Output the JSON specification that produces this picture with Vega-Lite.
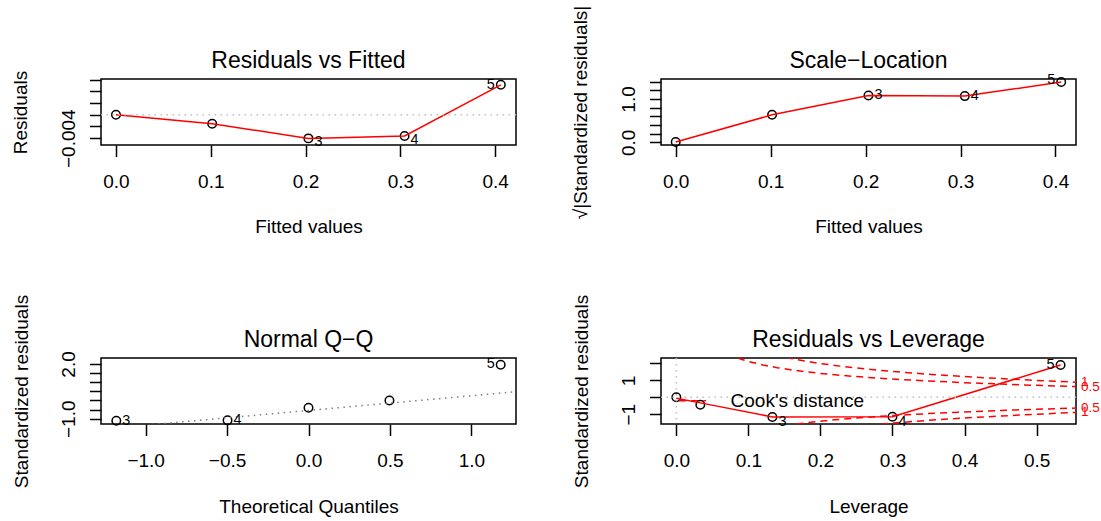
{
  "$schema": "https://vega.github.io/schema/vega-lite/v6.json",
  "background": "white",
  "padding": {"left": 10, "top": 4, "right": 0, "bottom": 0},
  "columns": 2,
  "spacing": {"row": 213, "column": 145},
  "bounds": "flush",
  "datasets": {
    "rvf": [
      {"x": 0, "y": 0.0, "id": "1"},
      {"x": 0.1015, "y": -0.00153, "id": "2"},
      {"x": 0.203, "y": -0.00403, "id": "3"},
      {"x": 0.3045, "y": -0.00363, "id": "4"},
      {"x": 0.406, "y": 0.00511, "id": "5"}
    ],
    "sl": [
      {"x": 0, "y": 0.01, "id": "1"},
      {"x": 0.1015, "y": 0.635, "id": "2"},
      {"x": 0.203, "y": 1.082, "id": "3"},
      {"x": 0.3045, "y": 1.066, "id": "4"},
      {"x": 0.406, "y": 1.39, "id": "5"}
    ],
    "qq": [
      {"x": -1.18, "y": -1.109, "id": "3"},
      {"x": -0.497, "y": -1.09, "id": "4"},
      {"x": 0, "y": -0.4, "id": "2"},
      {"x": 0.497, "y": -0.002, "id": "1"},
      {"x": 1.18, "y": 1.96, "id": "5"}
    ],
    "qqline": [{"x": -1.4, "y": -1.675}, {"x": 1.4, "y": 0.583}],
    "rvl": [
      {"x": 0, "y": -0.002, "s": -0.06, "id": "1"},
      {"x": 0.0333, "y": -0.44, "s": -0.33, "id": "2"},
      {"x": 0.1333, "y": -1.17, "s": -1.16, "id": "3"},
      {"x": 0.3, "y": -1.15, "s": -1.15, "id": "4"},
      {"x": 0.5333, "y": 1.91, "s": 1.91, "id": "5"}
    ],
    "zero": [{"x": 0, "y": 0}],
    "cook": [
      {"g": "u1", "x": 0.12, "y": 2.708}, {"g": "u1", "x": 0.14, "y": 2.478}, {"g": "u1", "x": 0.16, "y": 2.291}, {"g": "u1", "x": 0.18, "y": 2.134}, {"g": "u1", "x": 0.2, "y": 2.0}, {"g": "u1", "x": 0.22, "y": 1.883}, {"g": "u1", "x": 0.25, "y": 1.732}, {"g": "u1", "x": 0.28, "y": 1.604}, {"g": "u1", "x": 0.3, "y": 1.528}, {"g": "u1", "x": 0.35, "y": 1.363}, {"g": "u1", "x": 0.4, "y": 1.225}, {"g": "u1", "x": 0.45, "y": 1.106}, {"g": "u1", "x": 0.5, "y": 1.0}, {"g": "u1", "x": 0.5547, "y": 0.896},
      {"g": "l1", "x": 0.12, "y": -2.708}, {"g": "l1", "x": 0.14, "y": -2.478}, {"g": "l1", "x": 0.16, "y": -2.291}, {"g": "l1", "x": 0.18, "y": -2.134}, {"g": "l1", "x": 0.2, "y": -2.0}, {"g": "l1", "x": 0.22, "y": -1.883}, {"g": "l1", "x": 0.25, "y": -1.732}, {"g": "l1", "x": 0.28, "y": -1.604}, {"g": "l1", "x": 0.3, "y": -1.528}, {"g": "l1", "x": 0.35, "y": -1.363}, {"g": "l1", "x": 0.4, "y": -1.225}, {"g": "l1", "x": 0.45, "y": -1.106}, {"g": "l1", "x": 0.5, "y": -1.0}, {"g": "l1", "x": 0.5547, "y": -0.896},
      {"g": "u05", "x": 0.07, "y": 2.577}, {"g": "u05", "x": 0.08, "y": 2.398}, {"g": "u05", "x": 0.09, "y": 2.249}, {"g": "u05", "x": 0.1, "y": 2.121}, {"g": "u05", "x": 0.12, "y": 1.915}, {"g": "u05", "x": 0.14, "y": 1.752}, {"g": "u05", "x": 0.16, "y": 1.62}, {"g": "u05", "x": 0.18, "y": 1.509}, {"g": "u05", "x": 0.2, "y": 1.414}, {"g": "u05", "x": 0.22, "y": 1.331}, {"g": "u05", "x": 0.25, "y": 1.225}, {"g": "u05", "x": 0.28, "y": 1.134}, {"g": "u05", "x": 0.3, "y": 1.08}, {"g": "u05", "x": 0.35, "y": 0.964}, {"g": "u05", "x": 0.4, "y": 0.866}, {"g": "u05", "x": 0.45, "y": 0.782}, {"g": "u05", "x": 0.5, "y": 0.707}, {"g": "u05", "x": 0.5547, "y": 0.634},
      {"g": "l05", "x": 0.07, "y": -2.577}, {"g": "l05", "x": 0.08, "y": -2.398}, {"g": "l05", "x": 0.09, "y": -2.249}, {"g": "l05", "x": 0.1, "y": -2.121}, {"g": "l05", "x": 0.12, "y": -1.915}, {"g": "l05", "x": 0.14, "y": -1.752}, {"g": "l05", "x": 0.16, "y": -1.62}, {"g": "l05", "x": 0.18, "y": -1.509}, {"g": "l05", "x": 0.2, "y": -1.414}, {"g": "l05", "x": 0.22, "y": -1.331}, {"g": "l05", "x": 0.25, "y": -1.225}, {"g": "l05", "x": 0.28, "y": -1.134}, {"g": "l05", "x": 0.3, "y": -1.08}, {"g": "l05", "x": 0.35, "y": -0.964}, {"g": "l05", "x": 0.4, "y": -0.866}, {"g": "l05", "x": 0.45, "y": -0.782}, {"g": "l05", "x": 0.5, "y": -0.707}, {"g": "l05", "x": 0.5547, "y": -0.634}
    ],
    "cooklab": [
      {"x": 0.5547, "y": 0.896, "label": "1"},
      {"x": 0.5547, "y": 0.634, "label": "0.5"},
      {"x": 0.5547, "y": -0.634, "label": "0.5"},
      {"x": 0.5547, "y": -0.896, "label": "1"}
    ],
    "legend": [{"x": 0.004, "x2": 0.041, "y": -0.2, "tx": 0.0752, "ty": -0.237, "label": "Cook's distance"}]
  },
  "concat": [
    {
      "width": 415, "height": 66,
      "title": {"text": "Residuals vs Fitted", "offset": -3},
      "layer": [
        {
          "data": {"name": "rvf"},
          "mark": {"type": "point", "shape": "circle", "filled": false, "color": "black", "strokeWidth": 1.5, "size": 72, "opacity": 1},
          "encoding": {
            "x": {"field": "x", "type": "quantitative", "title": "Fitted values", "scale": {"domain": [-0.0158, 0.422], "nice": false, "zero": false},
                  "axis": {"values": [0, 0.1, 0.2, 0.3, 0.4], "tickCount": 20, "format": ".1f", "titleY": 87, "labelOverlap": false}},
            "y": {"field": "y", "type": "quantitative", "title": "Residuals", "scale": {"domain": [-0.00516, 0.0061], "nice": false, "zero": false},
                  "axis": {"values": [-0.004, -0.002, 0, 0.002, 0.004, 0.006], "tickCount": 20, "labelExpr": "datum.value < -0.003 ? '−0.004' : ''", "titleX": -75, "labelOverlap": false}}
          }
        },
        {
          "data": {"name": "rvf"},
          "mark": {"type": "line", "color": "#FF0000", "strokeWidth": 1.5},
          "encoding": {
            "x": {"field": "x", "type": "quantitative", "title": "Fitted values"},
            "y": {"field": "y", "type": "quantitative", "title": "Residuals"}
          }
        },
        {
          "data": {"name": "zero"},
          "mark": {"type": "rule", "color": "#BEBEBE", "strokeWidth": 1.5, "strokeDash": [1.5, 4.5]},
          "encoding": {"y": {"field": "y", "type": "quantitative", "title": "Residuals"}}
        },
        {
          "data": {"name": "rvf"},
          "transform": [{"filter": "datum.id == '3' || datum.id == '4'"}],
          "mark": {"type": "text", "align": "left", "baseline": "middle", "dx": 6, "dy": 4, "fontSize": 14.4, "color": "black"},
          "encoding": {
            "x": {"field": "x", "type": "quantitative", "title": "Fitted values"},
            "y": {"field": "y", "type": "quantitative", "title": "Residuals"},
            "text": {"field": "id"}
          }
        },
        {
          "data": {"name": "rvf"},
          "transform": [{"filter": "datum.id == '5'"}],
          "mark": {"type": "text", "align": "right", "baseline": "middle", "dx": -6, "dy": 0, "fontSize": 14.4, "color": "black"},
          "encoding": {
            "x": {"field": "x", "type": "quantitative", "title": "Fitted values"},
            "y": {"field": "y", "type": "quantitative", "title": "Residuals"},
            "text": {"field": "id"}
          }
        }
      ]
    },
    {
      "width": 415, "height": 66,
      "title": {"text": "Scale−Location", "offset": -68},
      "layer": [
        {
          "data": {"name": "sl"},
          "mark": {"type": "point", "shape": "circle", "filled": false, "color": "black", "strokeWidth": 1.5, "size": 72, "opacity": 1},
          "encoding": {
            "x": {"field": "x", "type": "quantitative", "title": "Fitted values", "scale": {"domain": [-0.0155, 0.4216], "nice": false, "zero": false},
                  "axis": {"values": [0, 0.1, 0.2, 0.3, 0.4], "tickCount": 20, "format": ".1f", "titleY": 87, "labelOverlap": false}},
            "y": {"field": "y", "type": "quantitative", "title": "√|Standardized residuals|", "scale": {"domain": [-0.06, 1.46], "nice": false, "zero": false},
                  "axis": {"values": [0, 0.2, 0.4, 0.6, 0.8, 1.0, 1.2, 1.4], "tickCount": 20, "labelExpr": "abs(datum.value) < 0.001 ? '0.0' : (abs(datum.value - 1) < 0.001 ? '1.0' : '')", "titleX": -75, "labelOverlap": false}}
          }
        },
        {
          "data": {"name": "sl"},
          "mark": {"type": "line", "color": "#FF0000", "strokeWidth": 1.5},
          "encoding": {
            "x": {"field": "x", "type": "quantitative", "title": "Fitted values"},
            "y": {"field": "y", "type": "quantitative", "title": "√|Standardized residuals|"}
          }
        },
        {
          "data": {"name": "sl"},
          "transform": [{"filter": "datum.id == '3' || datum.id == '4'"}],
          "mark": {"type": "text", "align": "left", "baseline": "middle", "dx": 6, "dy": 0, "fontSize": 14.4, "color": "black"},
          "encoding": {
            "x": {"field": "x", "type": "quantitative", "title": "Fitted values"},
            "y": {"field": "y", "type": "quantitative", "title": "√|Standardized residuals|"},
            "text": {"field": "id"}
          }
        },
        {
          "data": {"name": "sl"},
          "transform": [{"filter": "datum.id == '5'"}],
          "mark": {"type": "text", "align": "right", "baseline": "middle", "dx": -6, "dy": -2, "fontSize": 14.4, "color": "black"},
          "encoding": {
            "x": {"field": "x", "type": "quantitative", "title": "Fitted values"},
            "y": {"field": "y", "type": "quantitative", "title": "√|Standardized residuals|"},
            "text": {"field": "id"}
          }
        }
      ]
    },
    {
      "width": 415, "height": 66,
      "title": {"text": "Normal Q−Q", "offset": -58},
      "layer": [
        {
          "data": {"name": "qq"},
          "mark": {"type": "point", "shape": "circle", "filled": false, "color": "black", "strokeWidth": 1.5, "size": 72, "opacity": 1},
          "encoding": {
            "x": {"field": "x", "type": "quantitative", "title": "Theoretical Quantiles", "scale": {"domain": [-1.274, 1.274], "nice": false, "zero": false},
                  "axis": {"values": [-1, -0.5, 0, 0.5, 1], "tickCount": 20, "format": ".1f", "titleY": 88, "labelOverlap": false}},
            "y": {"field": "y", "type": "quantitative", "title": "Standardized residuals", "scale": {"domain": [-1.289, 2.327], "nice": false, "zero": false},
                  "axis": {"values": [-1, -0.5, 0, 0.5, 1, 1.5, 2], "tickCount": 20, "labelExpr": "abs(datum.value + 1) < 0.001 ? '−1.0' : (abs(datum.value - 2) < 0.001 ? '2.0' : '')", "titleX": -74, "labelOverlap": false}}
          }
        },
        {
          "data": {"name": "qqline"},
          "mark": {"type": "line", "color": "#7F7F7F", "strokeWidth": 1.5, "strokeDash": [1.5, 4.5], "clip": true},
          "encoding": {
            "x": {"field": "x", "type": "quantitative", "title": "Theoretical Quantiles"},
            "y": {"field": "y", "type": "quantitative", "title": "Standardized residuals"}
          }
        },
        {
          "data": {"name": "qq"},
          "transform": [{"filter": "datum.id == '3' || datum.id == '4'"}],
          "mark": {"type": "text", "align": "left", "baseline": "middle", "dx": 6, "dy": 0, "fontSize": 14.4, "color": "black"},
          "encoding": {
            "x": {"field": "x", "type": "quantitative", "title": "Theoretical Quantiles"},
            "y": {"field": "y", "type": "quantitative", "title": "Standardized residuals"},
            "text": {"field": "id"}
          }
        },
        {
          "data": {"name": "qq"},
          "transform": [{"filter": "datum.id == '5'"}],
          "mark": {"type": "text", "align": "right", "baseline": "middle", "dx": -6, "dy": -1, "fontSize": 14.4, "color": "black"},
          "encoding": {
            "x": {"field": "x", "type": "quantitative", "title": "Theoretical Quantiles"},
            "y": {"field": "y", "type": "quantitative", "title": "Standardized residuals"},
            "text": {"field": "id"}
          }
        }
      ]
    },
    {
      "width": 415, "height": 66,
      "title": {"text": "Residuals vs Leverage", "offset": -58},
      "layer": [
        {
          "data": {"name": "rvl"},
          "mark": {"type": "point", "shape": "circle", "filled": false, "color": "black", "strokeWidth": 1.5, "size": 72, "opacity": 1},
          "encoding": {
            "x": {"field": "x", "type": "quantitative", "title": "Leverage", "scale": {"domain": [-0.0213, 0.5547], "nice": false, "zero": false},
                  "axis": {"values": [0, 0.1, 0.2, 0.3, 0.4, 0.5], "tickCount": 20, "format": ".1f", "titleY": 88, "labelOverlap": false}},
            "y": {"field": "y", "type": "quantitative", "title": "Standardized residuals", "scale": {"domain": [-1.58, 2.325], "nice": false, "zero": false},
                  "axis": {"values": [-1, 0, 1, 2], "tickCount": 20, "labelExpr": "abs(datum.value + 1) < 0.001 ? '−1' : (abs(datum.value - 1) < 0.001 ? '1' : '')", "titleX": -74, "labelOverlap": false}}
          }
        },
        {
          "data": {"name": "rvl"},
          "mark": {"type": "line", "color": "#FF0000", "strokeWidth": 1.5},
          "encoding": {
            "x": {"field": "x", "type": "quantitative", "title": "Leverage"},
            "y": {"field": "s", "type": "quantitative", "title": "Standardized residuals"}
          }
        },
        {
          "data": {"name": "zero"},
          "mark": {"type": "rule", "color": "#BEBEBE", "strokeWidth": 1.5, "strokeDash": [1.5, 4.5]},
          "encoding": {"y": {"field": "y", "type": "quantitative", "title": "Standardized residuals"}}
        },
        {
          "data": {"name": "zero"},
          "mark": {"type": "rule", "color": "#BEBEBE", "strokeWidth": 1.5, "strokeDash": [1.5, 4.5]},
          "encoding": {"x": {"field": "x", "type": "quantitative", "title": "Leverage"}}
        },
        {
          "data": {"name": "cook"},
          "mark": {"type": "line", "color": "#FF0000", "strokeWidth": 1.5, "strokeDash": [7, 5], "clip": true},
          "encoding": {
            "x": {"field": "x", "type": "quantitative", "title": "Leverage"},
            "y": {"field": "y", "type": "quantitative", "title": "Standardized residuals"},
            "detail": {"field": "g"}
          }
        },
        {
          "data": {"name": "cooklab"},
          "mark": {"type": "text", "align": "left", "baseline": "middle", "dx": 5, "fontSize": 13.5, "color": "#FF0000"},
          "encoding": {
            "x": {"field": "x", "type": "quantitative", "title": "Leverage"},
            "y": {"field": "y", "type": "quantitative", "title": "Standardized residuals"},
            "text": {"field": "label"}
          }
        },
        {
          "data": {"name": "legend"},
          "mark": {"type": "rule", "color": "#FF0000", "strokeWidth": 1.5, "strokeDash": [7, 5]},
          "encoding": {
            "x": {"field": "x", "type": "quantitative", "title": "Leverage"},
            "x2": {"field": "x2"},
            "y": {"field": "y", "type": "quantitative", "title": "Standardized residuals"}
          }
        },
        {
          "data": {"name": "legend"},
          "mark": {"type": "text", "align": "left", "baseline": "middle", "fontSize": 19, "color": "black"},
          "encoding": {
            "x": {"field": "tx", "type": "quantitative", "title": "Leverage"},
            "y": {"field": "ty", "type": "quantitative", "title": "Standardized residuals"},
            "text": {"field": "label"}
          }
        },
        {
          "data": {"name": "rvl"},
          "transform": [{"filter": "datum.id == '3' || datum.id == '4'"}],
          "mark": {"type": "text", "align": "left", "baseline": "middle", "dx": 6, "dy": 5, "fontSize": 14.4, "color": "black"},
          "encoding": {
            "x": {"field": "x", "type": "quantitative", "title": "Leverage"},
            "y": {"field": "y", "type": "quantitative", "title": "Standardized residuals"},
            "text": {"field": "id"}
          }
        },
        {
          "data": {"name": "rvl"},
          "transform": [{"filter": "datum.id == '5'"}],
          "mark": {"type": "text", "align": "right", "baseline": "middle", "dx": -6, "dy": 0, "fontSize": 14.4, "color": "black"},
          "encoding": {
            "x": {"field": "x", "type": "quantitative", "title": "Leverage"},
            "y": {"field": "y", "type": "quantitative", "title": "Standardized residuals"},
            "text": {"field": "id"}
          }
        }
      ]
    }
  ],
  "config": {
    "font": "Liberation Sans",
    "view": {"stroke": "black", "strokeWidth": 1.5},
    "axis": {"domain": false, "grid": false, "ticks": true, "tickSize": 11.5, "tickWidth": 1.5, "tickColor": "black",
             "labelFont": "Liberation Sans", "labelFontSize": 19, "labelColor": "black",
             "titleFont": "Liberation Sans", "titleFontSize": 19, "titleFontWeight": "normal", "titleColor": "black",
             "labelOverlap": false, "labelFlush": false},
    "axisX": {"labelBaseline": "alphabetic", "labelPadding": 31, "labelAngle": 0, "titleBaseline": "alphabetic"},
    "axisY": {"labelAngle": -90, "labelAlign": "center", "labelBaseline": "alphabetic", "labelPadding": 15, "titleAngle": -90, "titleBaseline": "alphabetic"},
    "title": {"font": "Liberation Sans", "fontSize": 23, "fontWeight": "normal", "color": "black", "frame": "group", "anchor": "middle", "baseline": "alphabetic"}
  }
}
